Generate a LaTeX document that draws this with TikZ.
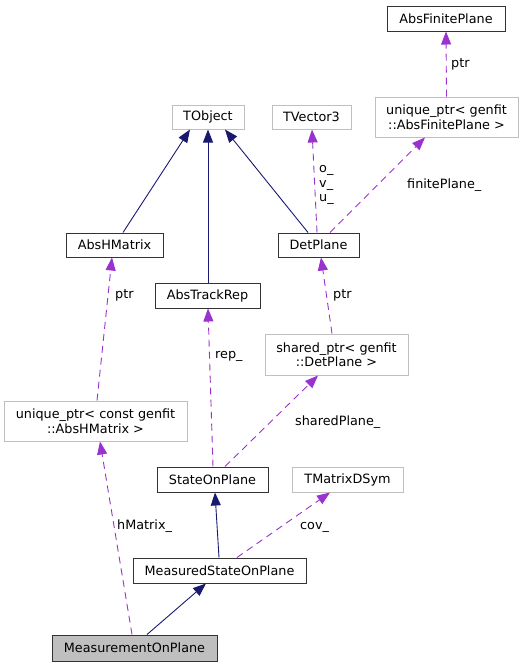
\documentclass[tikz,border=0pt]{standalone}
\usepackage{fontspec}
\setmainfont{DejaVu Sans}
\usetikzlibrary{arrows.meta}
\definecolor{inhblue}{HTML}{191970}
\definecolor{usepurple}{HTML}{9A32CD}
\definecolor{undoc}{HTML}{BFBFBF}
\begin{document}
\begin{tikzpicture}[x=1pt,y=-1pt,
    every node/.style={font=\fontsize{12.8}{14.5}\selectfont},
    cls/.style={draw=black!80,line width=1pt,fill=white,inner sep=0pt,minimum height=25pt,align=center},
    extcls/.style={draw=undoc,line width=1pt,fill=white,inner sep=0pt,minimum height=25pt,align=center},
    inh/.style={draw=inhblue,line width=0.9pt,-{Triangle[length=13pt,width=10pt,fill=inhblue]}},
    use/.style={draw=usepurple,line width=0.9pt,dash pattern=on 7pt off 5pt,-{Triangle[length=13pt,width=10pt,fill=usepurple]}},
    lbl/.style={inner sep=0pt,anchor=base west}]
    \useasboundingbox (0,0) rectangle (523,667);
    % classes
    \node[cls,minimum width=118pt] (absfp) at (446,18.5) {AbsFinitePlane};
    \node[extcls,minimum width=72pt,minimum height=24pt] (tobj) at (208,117) {TObject};
    \node[extcls,minimum width=79pt,minimum height=24pt] (tvec) at (311.5,117) {TVector3};
    \node[extcls,minimum width=143pt,minimum height=40pt] (uniqfp) at (446.5,117) {unique\_ptr< genfit\\::AbsFinitePlane >};
    \node[cls,minimum width=97pt,minimum height=24pt] (abshm) at (114.5,245) {AbsHMatrix};
    \node[cls,minimum width=81pt,minimum height=24pt] (detpl) at (318.5,245) {DetPlane};
    \node[cls,minimum width=105pt] (absrep) at (207.5,295.5) {AbsTrackRep};
    \node[extcls,minimum width=143pt,minimum height=41pt] (shrdp) at (336.5,354.5) {shared\_ptr< genfit\\::DetPlane >};
    \node[extcls,minimum width=183pt,minimum height=40pt] (uniqhm) at (95.5,421) {unique\_ptr< const genfit\\::AbsHMatrix >};
    \node[cls,minimum width=111pt] (sop) at (212.5,479.5) {StateOnPlane};
    \node[extcls,minimum width=111pt] (tmat) at (347.5,479.5) {TMatrixDSym};
    \node[cls,minimum width=173pt] (msop) at (219.5,570.5) {MeasuredStateOnPlane};
    \node[cls,fill=undoc,minimum width=165pt,minimum height=26pt] (mop) at (134.5,648) {MeasurementOnPlane};
    % inheritance
    \draw[inh] ([xshift=8.5pt]abshm.north) -- ([xshift=-18pt]tobj.south);
    \draw[inh] ([xshift=0.5pt]absrep.north) -- (tobj.south);
    \draw[inh] ([xshift=-10.5pt]detpl.north) -- ([xshift=17pt]tobj.south);
    \draw[inh] ([xshift=-0.5pt]msop.north) -- ([xshift=2.5pt]sop.south);
    \draw[inh] ([xshift=12.5pt]mop.north) -- ([xshift=-13.5pt]msop.south);
    % members
    \draw[use] ([xshift=-1.5pt]detpl.north) -- ([xshift=0.5pt]tvec.south);
    \draw[use] ([xshift=11.5pt]detpl.north) -- ([xshift=-21.5pt]uniqfp.south);
    \draw[use] (uniqfp.north) -- (absfp.south);
    \draw[use] ([xshift=1.5pt]uniqhm.north) -- ([xshift=-2.5pt]abshm.south);
    \draw[use] ([xshift=-4.5pt]shrdp.north) -- ([xshift=2.5pt]detpl.south);
    \draw[use] ([xshift=0.5pt]sop.north) -- ([xshift=0.5pt]absrep.south);
    \draw[use] ([xshift=12.5pt]sop.north) -- ([xshift=-18.5pt]shrdp.south);
    \draw[use] ([xshift=17.5pt]msop.north) -- ([xshift=-17.5pt]tmat.south);
    \draw[use] ([xshift=-2.5pt]mop.north) -- ([xshift=4.5pt]uniqhm.south);
    % labels
    \node[lbl] (l-fpptr) at (451,67) {ptr};
    \node[inner sep=0pt,anchor=west,align=left] (l-ovu) at (319,185) {o\_\\v\_\\u\_};
    \node[lbl] (l-fp) at (407,188) {finitePlane\_};
    \node[lbl] (l-hmptr) at (115,298) {ptr};
    \node[lbl] (l-dpptr) at (333,298) {ptr};
    \node[lbl] (l-rep) at (215,358) {rep\_};
    \node[lbl] (l-shrd) at (295,425) {sharedPlane\_};
    \node[lbl] (l-hm) at (117,529) {hMatrix\_};
    \node[lbl] (l-cov) at (300,529) {cov\_};
\end{tikzpicture}
\end{document}
